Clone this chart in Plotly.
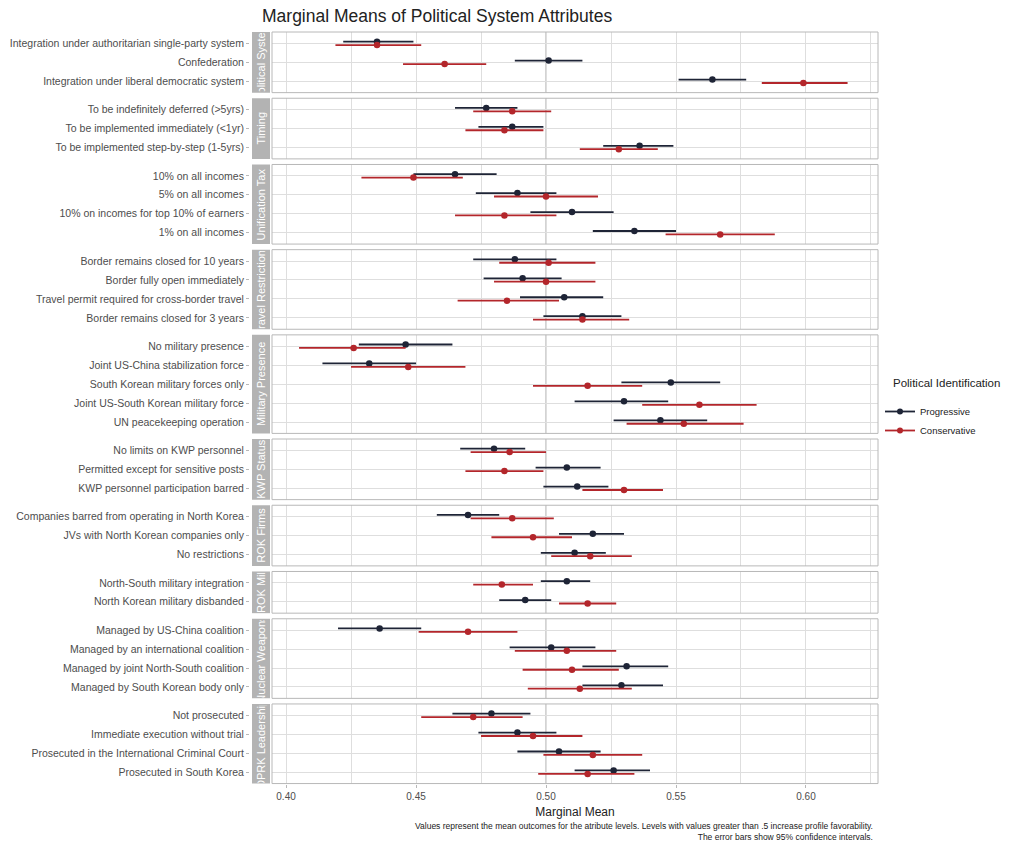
import plotly.graph_objects as go

# Attributes (facets) and their levels, listed top to bottom
attributes = [
    "Political System", "Timing", "Unification Tax", "Travel Restrictions",
    "Military Presence", "KWP Status", "ROK Firms", "ROK Mil",
    "Nuclear Weapons", "DPRK Leadership",
]
levels = [
    ["Integration under authoritarian single-party system", "Confederation",
     "Integration under liberal democratic system"],
    ["To be indefinitely deferred (>5yrs)", "To be implemented immediately (<1yr)",
     "To be implemented step-by-step (1-5yrs)"],
    ["10% on all incomes", "5% on all incomes", "10% on incomes for top 10% of earners",
     "1% on all incomes"],
    ["Border remains closed for 10 years", "Border fully open immediately",
     "Travel permit required for cross-border travel", "Border remains closed for 3 years"],
    ["No military presence", "Joint US-China stabilization force",
     "South Korean military forces only", "Joint US-South Korean military force",
     "UN peacekeeping operation"],
    ["No limits on KWP personnel", "Permitted except for sensitive posts",
     "KWP personnel participation barred"],
    ["Companies barred from operating in North Korea",
     "JVs with North Korean companies only", "No restrictions"],
    ["North-South military integration", "North Korean military disbanded"],
    ["Managed by US-China coalition", "Managed by an international coalition",
     "Managed by joint North-South coalition", "Managed by South Korean body only"],
    ["Not prosecuted", "Immediate execution without trial",
     "Prosecuted in the International Criminal Court", "Prosecuted in South Korea"],
]

# Marginal means with 95% confidence bounds, one list per attribute
prog_mean = [
    [0.435, 0.501, 0.564], [0.477, 0.487, 0.536], [0.465, 0.489, 0.510, 0.534],
    [0.488, 0.491, 0.507, 0.514], [0.446, 0.432, 0.548, 0.530, 0.544],
    [0.480, 0.508, 0.512], [0.470, 0.518, 0.511], [0.508, 0.492],
    [0.436, 0.502, 0.531, 0.529], [0.479, 0.489, 0.505, 0.526],
]
prog_lo = [
    [0.422, 0.488, 0.551], [0.465, 0.474, 0.522], [0.449, 0.473, 0.494, 0.518],
    [0.472, 0.476, 0.490, 0.499], [0.428, 0.414, 0.529, 0.511, 0.526],
    [0.467, 0.496, 0.499], [0.458, 0.505, 0.498], [0.498, 0.482],
    [0.420, 0.486, 0.514, 0.514], [0.464, 0.474, 0.489, 0.511],
]
prog_hi = [
    [0.449, 0.514, 0.577], [0.489, 0.499, 0.549], [0.481, 0.504, 0.526, 0.550],
    [0.504, 0.506, 0.522, 0.529], [0.464, 0.450, 0.567, 0.547, 0.562],
    [0.492, 0.521, 0.524], [0.482, 0.530, 0.523], [0.517, 0.502],
    [0.452, 0.519, 0.547, 0.545], [0.494, 0.504, 0.521, 0.540],
]
cons_mean = [
    [0.435, 0.461, 0.599], [0.487, 0.484, 0.528], [0.449, 0.500, 0.484, 0.567],
    [0.501, 0.500, 0.485, 0.514], [0.426, 0.447, 0.516, 0.559, 0.553],
    [0.486, 0.484, 0.530], [0.487, 0.495, 0.517], [0.483, 0.516],
    [0.470, 0.508, 0.510, 0.513], [0.472, 0.495, 0.518, 0.516],
]
cons_lo = [
    [0.419, 0.445, 0.583], [0.472, 0.469, 0.513], [0.429, 0.480, 0.465, 0.546],
    [0.482, 0.480, 0.466, 0.495], [0.405, 0.425, 0.495, 0.537, 0.531],
    [0.471, 0.469, 0.514], [0.471, 0.479, 0.502], [0.472, 0.505],
    [0.451, 0.488, 0.491, 0.493], [0.452, 0.475, 0.499, 0.497],
]
cons_hi = [
    [0.452, 0.477, 0.616], [0.502, 0.499, 0.543], [0.468, 0.520, 0.504, 0.588],
    [0.519, 0.519, 0.505, 0.532], [0.446, 0.469, 0.537, 0.581, 0.576],
    [0.500, 0.499, 0.545], [0.503, 0.510, 0.533], [0.495, 0.527],
    [0.489, 0.527, 0.528, 0.533], [0.491, 0.514, 0.537, 0.534],
]

x_ticks = [0.40, 0.45, 0.50, 0.55, 0.60]
neutral = 0.5

groups = [
    ("Progressive", prog_mean, prog_lo, prog_hi, "#1e2436", 0.09),
    ("Conservative", cons_mean, cons_lo, cons_hi, "#b3262b", -0.09),
]

# ---- page geometry (pixels) ----
W, H = 1011, 842
PX_L, PX_R = 272, 878          # panel left/right
STRIP_L, STRIP_R = 252, 270    # facet strip
TOP = 32
UNIT = 18.95                   # height of one level slot
GAP = 5.6                      # gap between panels
X_RANGE = [0.3946, 0.6277]

GRID = "#dedede"
BORDER = "#b8b8b8"
TXT = "#4d4d4d"
FONT = "Liberation Sans, Arial, sans-serif"

fig = go.Figure()
layout = dict(shapes=[], annotations=[])

top = TOP
n_panels = len(attributes)
for i, (attr, lv) in enumerate(zip(attributes, levels)):
    k = i + 1
    xa = "x" if k == 1 else f"x{k}"
    ya = "y" if k == 1 else f"y{k}"
    n = len(lv)
    height = (n + 0.2) * UNIT
    bottom = top + height
    ypos = [n - 1 - j for j in range(n)]

    for name, mean, lo, hi, color, off in groups:
        m, l, h = mean[i], lo[i], hi[i]
        fig.add_trace(go.Scatter(
            x=m, y=[p + off for p in ypos], xaxis=xa, yaxis=ya,
            mode="markers", name=name, showlegend=False,
            marker=dict(color=color, size=6.5),
            error_x=dict(type="data", symmetric=False,
                         array=[b - a for a, b in zip(m, h)],
                         arrayminus=[a - b for a, b in zip(m, l)],
                         color=color, thickness=1.8, width=0),
            hovertemplate="%{x:.3f}<extra>" + name + "</extra>",
        ))

    last = k == n_panels
    layout["xaxis" if k == 1 else f"xaxis{k}"] = dict(
        domain=[PX_L / W, PX_R / W], anchor=ya, range=X_RANGE,
        tickvals=x_ticks, ticktext=[f"{v:.2f}" for v in x_ticks],
        showticklabels=last, ticks="outside" if last else "",
        ticklen=3, tickcolor=BORDER,
        tickfont=dict(size=10, color=TXT, family=FONT),
        showgrid=True, gridcolor=GRID, gridwidth=1,
        minor=dict(dtick=0.025, tick0=0.4, showgrid=True, gridcolor=GRID, gridwidth=0.5),
        zeroline=False, showline=False, fixedrange=True,
        title=dict(text="Marginal Mean", standoff=7,
                   font=dict(size=12, color="#222222", family=FONT)) if last else None,
    )
    layout["yaxis" if k == 1 else f"yaxis{k}"] = dict(
        domain=[1 - bottom / H, 1 - top / H], anchor="free", position=(STRIP_L - 3) / W,
        range=[-0.6, n - 0.4], tickvals=ypos, ticktext=lv,
        ticks="outside", ticklen=3, tickcolor=BORDER,
        tickfont=dict(size=10.5, color=TXT, family=FONT),
        showgrid=True, gridcolor=GRID, gridwidth=1,
        zeroline=False, showline=False, fixedrange=True,
    )

    # panel border, neutral reference line, facet strip
    layout["shapes"].append(dict(type="rect", xref=f"{xa} domain", yref=f"{ya} domain",
                                 x0=0, x1=1, y0=0, y1=1, line=dict(color=BORDER, width=1),
                                 layer="above"))
    layout["shapes"].append(dict(type="line", xref=xa, yref=f"{ya} domain",
                                 x0=neutral, x1=neutral, y0=0, y1=1,
                                 line=dict(color="#a6a6a6", width=1), layer="below"))
    layout["shapes"].append(dict(type="rect", xref="paper", yref="paper",
                                 x0=STRIP_L / W, x1=STRIP_R / W,
                                 y0=1 - bottom / H, y1=1 - top / H,
                                 fillcolor="#b3b3b3", line=dict(width=0)))
    layout["annotations"].append(dict(
        xref="paper", yref="paper", x=(STRIP_L + STRIP_R) / 2 / W, y=1 - (top + bottom) / 2 / H,
        text=attr, textangle=-90, showarrow=False, width=height - 2, height=16,
        align="center", font=dict(size=11, color="white", family=FONT),
        xanchor="center", yanchor="middle",
    ))
    top = bottom + GAP

# legend entries
for name, _, _, _, color, _ in groups:
    fig.add_trace(go.Scatter(x=[None], y=[None], mode="lines+markers", name=name,
                             line=dict(color=color, width=1.8),
                             marker=dict(color=color, size=6)))

# legend heading
layout["annotations"].append(dict(
    xref="paper", yref="paper", x=891 / W, y=1 - 383 / H, xanchor="left", yanchor="middle",
    text="Political Identification", showarrow=False,
    font=dict(size=11.5, color="#222222", family=FONT),
))

# caption
layout["annotations"].append(dict(
    xref="paper", yref="paper", x=875 / W, y=1 - 819 / H, xanchor="right", yanchor="top",
    align="right", showarrow=False,
    text="Values represent the mean outcomes for the atribute levels. Levels with values greater than .5 increase profile favorability."
         "<br>The error bars show 95% confidence intervals.",
    font=dict(size=8.5, color="#222222", family=FONT),
))

fig.update_layout(
    **layout,
    width=W, height=H, margin=dict(l=0, r=0, t=0, b=0),
    paper_bgcolor="white", plot_bgcolor="white",
    title=dict(text="Marginal Means of Political System Attributes",
               x=262 / W, xanchor="left", y=1 - 16 / H, yanchor="middle",
               font=dict(size=17.5, color="#222222", family=FONT)),
    legend=dict(x=880 / W, y=1 - 397 / H, xanchor="left", yanchor="top",
                font=dict(size=9.5, color="#222222", family=FONT),
                itemwidth=30, tracegroupgap=0, bgcolor="rgba(0,0,0,0)"),
    font=dict(family=FONT),
)

fig.write_html("out.html")
